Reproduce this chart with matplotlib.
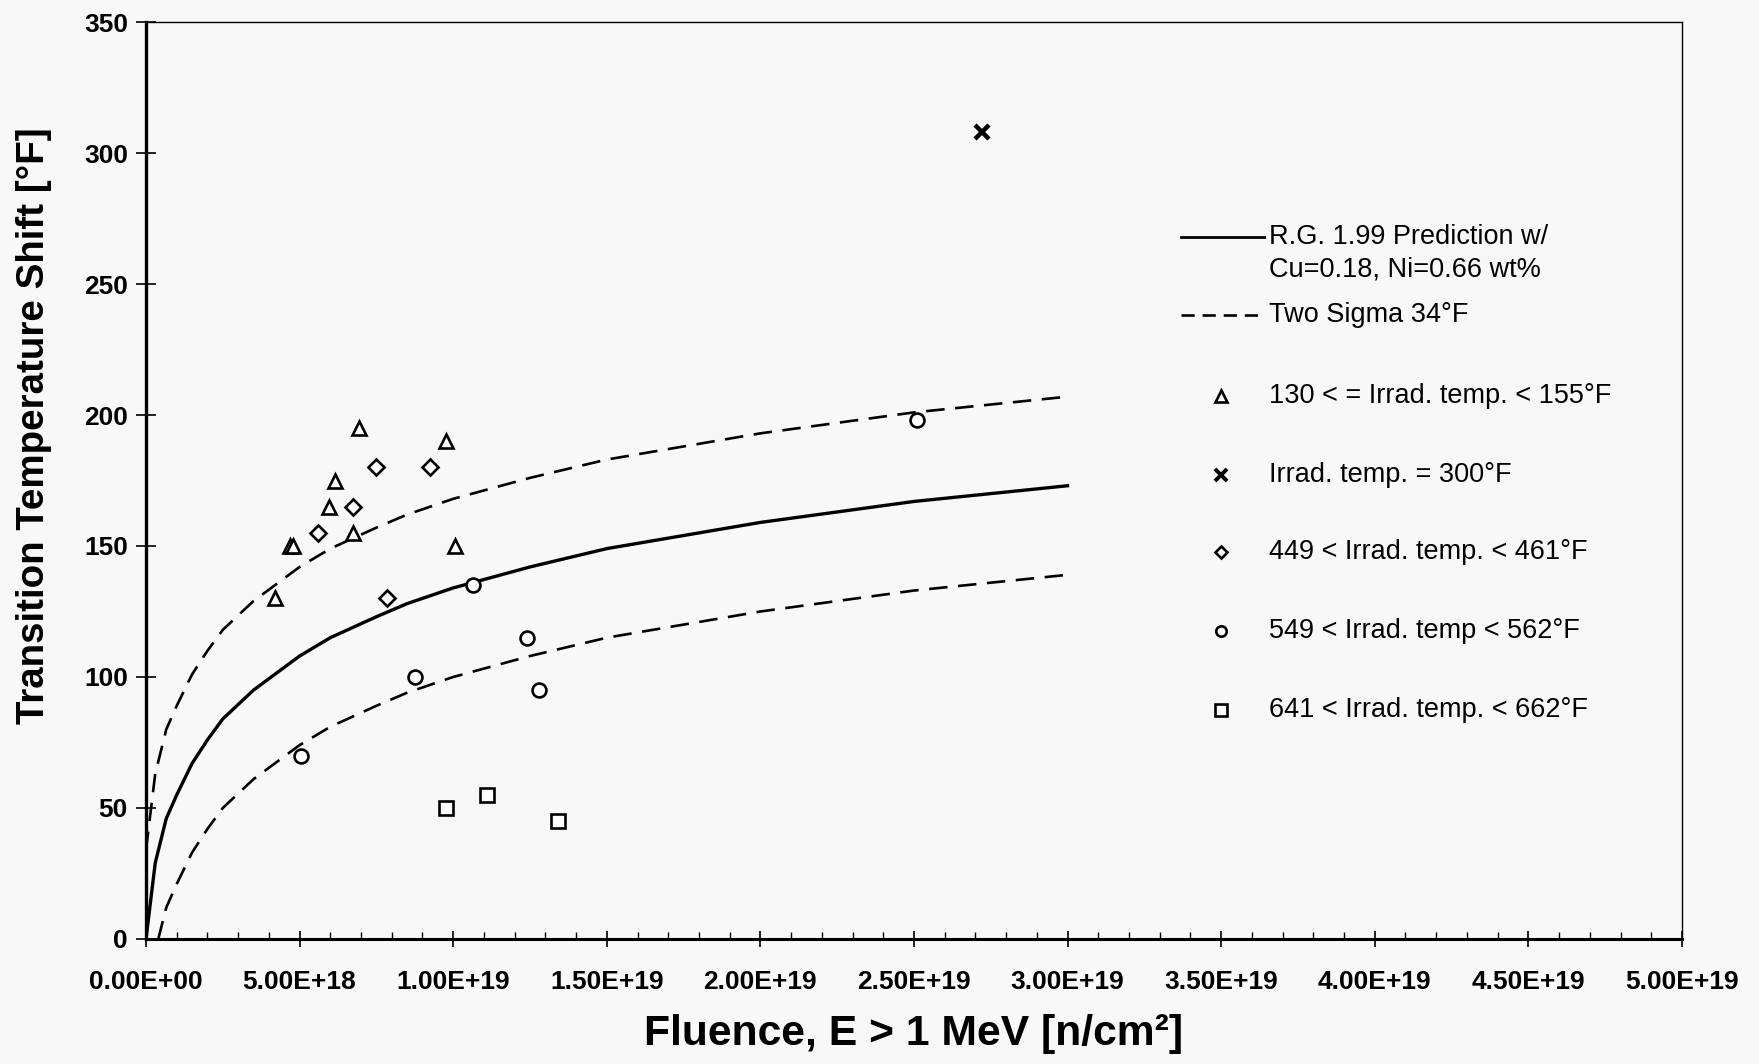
import matplotlib
matplotlib.use("Agg")
import matplotlib.pyplot as plt
from matplotlib.lines import Line2D
from matplotlib.ticker import FuncFormatter, MultipleLocator
import numpy as np

plt.rcParams['font.family'] = ['Liberation Sans', 'DejaVu Sans']

# fluence values below are in units of 1e18 n/cm^2
curve_x = np.array([0, 0.3, 0.66, 1, 1.5, 2, 2.5, 3.5, 5, 6, 7.5, 8.5, 10,
                    12.5, 15, 17.5, 20, 22.5, 25, 27.5, 30])
pred_y = np.array([0, 29, 46, 55, 67, 76, 84, 95, 108, 115, 123, 128, 134,
                   142, 149, 154, 159, 163, 167, 170, 173])
upper_y = np.array([34, 63, 80, 89, 101, 110, 118, 129, 142, 149, 157, 162, 168,
                    176, 183, 188, 193, 197, 201, 204, 207])
lower_x = np.array([0.4, 0.66, 1, 1.5, 2, 2.5, 3.5, 5, 6, 7.5, 8.5, 10,
                    12.5, 15, 17.5, 20, 22.5, 25, 27.5, 30])
lower_y = np.array([0, 12, 21, 33, 42, 50, 61, 74, 81, 89, 94, 100,
                    108, 115, 120, 125, 129, 133, 136, 139])

tri_x = np.array([4.2, 4.7, 4.8, 5.95, 6.15, 6.95, 6.75, 9.75, 10.05])
tri_y = np.array([130, 150, 150, 165, 175, 195, 155, 190, 150])
star_x = np.array([27.2])
star_y = np.array([308])
dia_x = np.array([5.6, 6.75, 7.5, 9.25, 7.85])
dia_y = np.array([155, 165, 180, 180, 130])
circ_x = np.array([5.05, 8.75, 10.65, 12.4, 12.8, 25.1])
circ_y = np.array([70, 100, 135, 115, 95, 198])
sq_x = np.array([9.75, 11.1, 13.4])
sq_y = np.array([50, 55, 45])

sigma_label = "Two Sigma 34°F"
group_labels = ["130 < = Irrad. temp. < 155°F", "Irrad. temp. = 300°F",
                "449 < Irrad. temp. < 461°F", "549 < Irrad. temp < 562°F",
                "641 < Irrad. temp. < 662°F"]

bg = '#f8f8f8'
fig = plt.figure(figsize=(17.59, 10.64), dpi=100, facecolor=bg)
ax = fig.add_axes([0.0830, 0.1175, 0.8732, 0.8618], facecolor=bg)

dash = (0, (7, 4))
ax.plot(curve_x * 1e18, pred_y, color='black', lw=2.4)
ax.plot(curve_x * 1e18, upper_y, color='black', lw=1.9, linestyle=dash)
ax.plot(lower_x * 1e18, lower_y, color='black', lw=1.9, linestyle=dash)

mk = dict(mfc='white', mec='black', mew=1.9, linestyle='none')
ax.plot(tri_x * 1e18, tri_y, marker='^', ms=10, **mk)
ax.plot(star_x * 1e18, star_y, marker='x', ms=10, color='black', mew=3.2, linestyle='none')
ax.plot(dia_x * 1e18, dia_y, marker='D', ms=8, **mk)
ax.plot(circ_x * 1e18, circ_y, marker='o', ms=10, **mk)
ax.plot(sq_x * 1e18, sq_y, marker='s', ms=10, **mk)

ax.set_xlim(0, 5e19)
ax.set_ylim(0, 350)
ax.xaxis.set_major_locator(MultipleLocator(5e18))
ax.xaxis.set_minor_locator(MultipleLocator(1e18))
ax.yaxis.set_major_locator(MultipleLocator(50))
ax.xaxis.set_major_formatter(FuncFormatter(lambda v, p: f"{v:.2E}"))
ax.tick_params(axis='x', which='major', direction='inout', length=12, width=1.2, pad=16,
               labelsize=19)
ax.tick_params(axis='x', which='minor', direction='in', length=5, width=1)
ax.tick_params(axis='y', which='major', direction='inout', length=14, width=1.2, pad=6,
               labelsize=19)
for lab in ax.get_xticklabels() + ax.get_yticklabels():
    lab.set_fontweight('bold')

ax.spines['left'].set_linewidth(2.4)
ax.spines['bottom'].set_linewidth(2.2)
ax.spines['top'].set_linewidth(1.0)
ax.spines['right'].set_linewidth(1.0)

fig.text(0.5196, 0.028, "Fluence, E > 1 MeV [n/cm²]", ha='center', va='center',
         fontsize=30.7, fontweight='bold')
fig.text(0.0193, 0.60, "Transition Temperature Shift [°F]", ha='center', va='center',
         rotation=90, fontsize=27.7, fontweight='bold')

# legend drawn by hand, in axes fraction
tr = ax.transAxes
lx0, lx1, tx, mx = 0.674, 0.728, 0.731, 0.700
ax.add_line(Line2D([lx0, lx1], [0.766, 0.766], transform=tr, color='black', lw=2))
ax.text(tx, 0.766, "R.G. 1.99 Prediction w/", transform=tr, va='center', fontsize=19.5)
ax.text(tx, 0.730, "Cu=0.18, Ni=0.66 wt%", transform=tr, va='center', fontsize=19.5)
ax.add_line(Line2D([lx0, lx1], [0.680, 0.680], transform=tr, color='black', lw=1.9,
                   linestyle=(0, (5, 3))))
ax.text(tx, 0.680, sigma_label, transform=tr, va='center', fontsize=19.5)

rows = [0.592, 0.506, 0.422, 0.336, 0.250]
legend_marks = [dict(marker='^', ms=8, **mk),
                dict(marker='x', ms=8, color='black', mew=2.8, linestyle='none'),
                dict(marker='D', ms=6.5, **mk),
                dict(marker='o', ms=7.5, **mk),
                dict(marker='s', ms=8, **mk)]
for yy, lab, st in zip(rows, group_labels, legend_marks):
    ax.add_line(Line2D([mx], [yy], transform=tr, **st))
    ax.text(tx, yy, lab, transform=tr, va='center', fontsize=19.5)

fig.savefig("out.png", dpi=100, facecolor=bg)
